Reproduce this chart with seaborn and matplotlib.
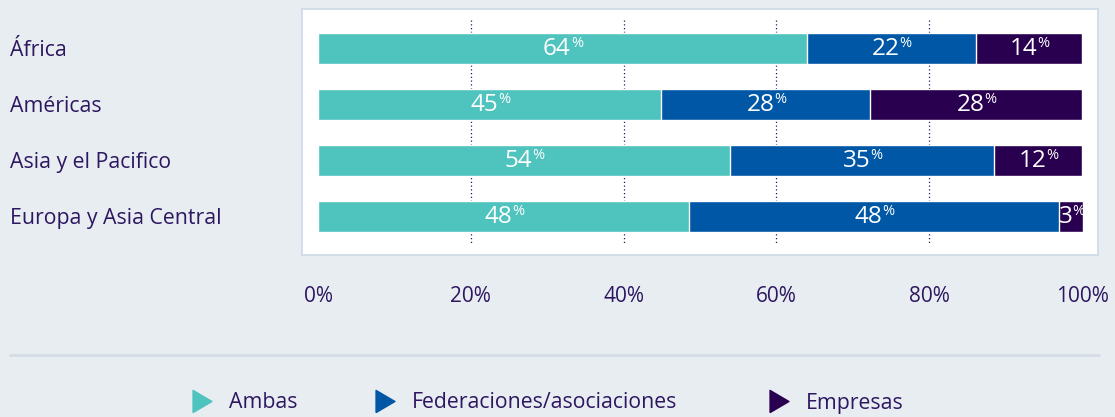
import seaborn as sns
import matplotlib.pyplot as plt
import pandas as pd
import numpy as np
from matplotlib.lines import Line2D

regions = ['África', 'Américas', 'Asia y el Pacifico', 'Europa y Asia Central']
series = ['Ambas', 'Federaciones/asociaciones', 'Empresas']
ambas = [64.0, 44.9, 53.9, 48.6]
federaciones = [22.1, 27.4, 34.6, 48.4]
empresas = [13.9, 27.7, 11.5, 3.1]
# printed (rounded) labels
ambas_lbl = [64, 45, 54, 48]
fed_lbl = [22, 28, 35, 48]
emp_lbl = [14, 28, 12, 3]
xticks = [0, 20, 40, 60, 80, 100]

colors = ['#4fc3be', '#0057a6', '#29004f']
txt = '#2d1760'
bg = '#e8edf2'

sns.set_theme(style='white')
plt.rcParams['font.family'] = ['Open Sans', 'DejaVu Sans']

df = pd.DataFrame({'region': regions, 'Ambas': ambas,
                   'Federaciones/asociaciones': federaciones, 'Empresas': empresas})
df['c1'] = df['Ambas']
df['c2'] = df['c1'] + df['Federaciones/asociaciones']
df['c3'] = df['c2'] + df['Empresas']

fig = plt.figure(figsize=(11.15, 4.17), dpi=100, facecolor=bg)
ax = fig.add_axes([0.2709, 0.3885, 0.7139, 0.5899])
ax.set_facecolor('white')

# stack by drawing cumulative totals back to front
for col, c in zip(['c3', 'c2', 'c1'], colors[::-1]):
    sns.barplot(data=df, x=col, y='region', orient='h', color=c, width=0.55,
                saturation=1, ax=ax, zorder=3)

ax.vlines([20, 40, 60, 80], -0.51, 3.47, colors=txt, linestyles=(0, (1, 2)),
          linewidth=0.9, zorder=2)

# value labels: big number + small raised percent sign
for i in range(len(regions)):
    starts = [0, df['c1'][i], df['c2'][i]]
    widths = [ambas[i], federaciones[i], empresas[i]]
    labs = [ambas_lbl[i], fed_lbl[i], emp_lbl[i]]
    for s, w, l in zip(starts, widths, labs):
        cx = s + w / 2
        ax.annotate(str(l), (cx, i), xytext=(-4, -0.5), textcoords='offset points',
                    ha='center', va='center', color='white', fontsize=17.5, zorder=4)
        nd = len(str(l))
        ax.annotate('%', (cx, i), xytext=(-4 + nd * 5.0, 3.5),
                    textcoords='offset points', ha='left', va='center',
                    color='white', fontsize=10.5, zorder=4)

ax.set_xlim(-2.1, 102.1)
ax.set_ylim(3.6875, -0.705)
ax.set_xticks(xticks)
ax.set_xticklabels([f'{t}%' for t in xticks])
ax.set_xlabel('')
ax.set_ylabel('')
ax.tick_params(axis='x', length=0, pad=22, labelsize=15, labelcolor=txt)
ax.tick_params(axis='y', length=0, pad=210, labelsize=15.3, labelcolor=txt)
for lab in ax.get_yticklabels():
    lab.set_ha('left')
for sp in ax.spines.values():
    sp.set_color('#ccd9e8')
    sp.set_linewidth(1.2)

# separator line
fig.add_artist(Line2D([10 / 1115, 1099 / 1115], [1 - 355 / 417] * 2,
                      color='#d5dde6', linewidth=2))

# legend, placed by hand
tri = [(-0.85, -1), (0.85, 0), (-0.85, 1), (-0.85, -1)]
leg_x = [192, 375, 769]
ly = 1 - 403 / 417
for x, c, name in zip(leg_x, colors, series):
    fig.add_artist(Line2D([(x + 9.5) / 1115], [1 - 401 / 417], marker=tri, linestyle='',
                          color=c, markersize=16))
    fig.text((x + 37) / 1115, ly, name, ha='left', va='center', fontsize=15.3, color=txt)

fig.savefig('out.png', dpi=100, facecolor=bg)
